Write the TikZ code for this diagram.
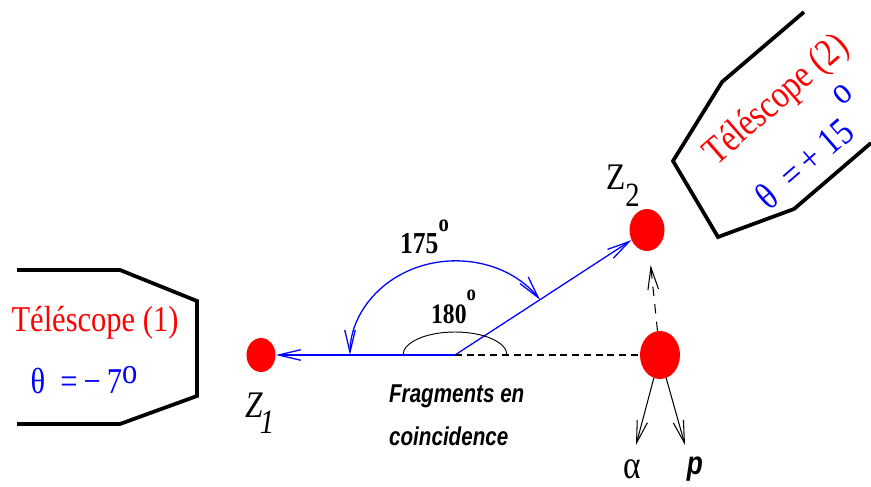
\documentclass[tikz,border=0pt]{standalone}
\usepackage{fontspec}
\setmainfont{Liberation Serif}[FakeStretch=0.84]
\newfontfamily\fragfont{Liberation Sans}[FakeStretch=0.8]
\usepackage{tikz}
\usetikzlibrary{arrows.meta, shapes.geometric, calc}
\newcommand{\zsub}[1]{\raisebox{-.45em}{\fontsize{29}{29}\selectfont #1}}
\tikzset{
    nucleus/.style={ellipse, fill=red, inner sep=0pt},
    telescope/.style={line width=3.2pt, line join=miter},
    track/.style={blue, line width=1.1pt},
    barb/.style={-{Straight Barb[length=19pt, width=9pt]}},
    dashline/.style={line width=.9pt, dash pattern=on 6pt off 4pt},
    telename/.style={text=red, font=\fontsize{31}{32}\selectfont},
    teleangle/.style={text=blue, font=\fontsize{31}{32}\selectfont},
    zlabel/.style={anchor=base west, font=\fontsize{32}{32}\selectfont},
    fragtext/.style={anchor=base west, font=\fragfont\bfseries\itshape\fontsize{22}{22}\selectfont}
}

\begin{document}
\begin{tikzpicture}[x=0.03cm, y=-0.03cm]
        \useasboundingbox (0,0) rectangle (871,487);

        % Telescope (1)
        \draw[telescope] (17,270) -- (120,270) -- (197,301) -- (197,396) -- (120,424) -- (17,424);
        \node[telename, anchor=base] (tname1) at (95,332) {Téléscope (1)};
        \node[teleangle, anchor=base] (tangle1) at (84,393) {θ\ \ =\,−\,7\raisebox{.25em}{o}};

        % Telescope (2)
        \draw[telescope] (804,12) -- (722,82) -- (673,161) -- (718,237) -- (794,209) -- (871,143);
        \node[telename, font=\fontsize{33}{34}\selectfont, rotate=41] (tname2) at (777,101) {Téléscope (2)};
        \node[teleangle, font=\fontsize{33}{34}\selectfont, rotate=41] (tangle2) at (806,147) {θ\ \ =\,+\ 15\ \raisebox{.8em}{o}};

        % nuclei
        \node[nucleus, minimum width=0.87cm, minimum height=1.02cm] (z1) at (261,355) {};
        \node[nucleus, minimum width=1.05cm, minimum height=1.26cm] (z2) at (647,230) {};
        \node[nucleus, minimum width=1.2cm, minimum height=1.44cm] (src) at (660,355) {};
        \node[zlabel] (z1name) at (241,417) {\textit{Z}\kern-.08em\zsub{\textit{1}}};
        \node[zlabel] (z2name) at (602,190) {Z\zsub{2}};

        % fragments in coincidence
        \coordinate (o) at (455,355);
        \coordinate (tip175) at ($(o)+(324:105 and 94)$);
        \draw[track, barb] (o) -- (z1);
        \draw[track, barb] (o) -- (z2);
        \draw[dashline] (o) -- (src);
        \draw[dashline, dash pattern=on 8pt off 7pt, barb, shorten >=12pt] (src) -- (z2);
        \draw[line width=.8pt] ($(o)+(-52,0)$) arc[start angle=180, end angle=360, x radius=52, y radius=23];
        \draw[track, {Straight Barb[length=19pt, width=9pt]}-{Straight Barb[length=19pt, width=9pt]}]
            (tip175) arc[start angle=324, end angle=180, x radius=105, y radius=94];
        \node[anchor=base west, font=\bfseries\fontsize{26}{26}\selectfont] (a175) at (396,254)
            {175\raisebox{.75em}{\fontsize{21}{21}\selectfont o}};
        \node[anchor=base west, font=\bfseries\fontsize{24}{24}\selectfont] (a180) at (427,324)
            {180\raisebox{.85em}{\fontsize{19}{19}\selectfont o}};
        \node[fragtext] (frag) at (385,402) {Fragments en};
        \node[fragtext] (coinc) at (385,445) {coincidence};

        % decay products
        \coordinate (atip) at (636,445);
        \coordinate (ptip) at (685,445);
        \foreach \ang/\tip in {-105/atip, -75/ptip}
            \draw[line width=.9pt, barb] (src.\ang) -- (\tip);
        \node[anchor=base, font=\fontsize{34}{34}\selectfont] (alpha) at (632,478) {α};
        \node[anchor=base, font=\fragfont\bfseries\itshape\fontsize{28}{28}\selectfont] (proton) at (695,474) {p};
\end{tikzpicture}
\end{document}
